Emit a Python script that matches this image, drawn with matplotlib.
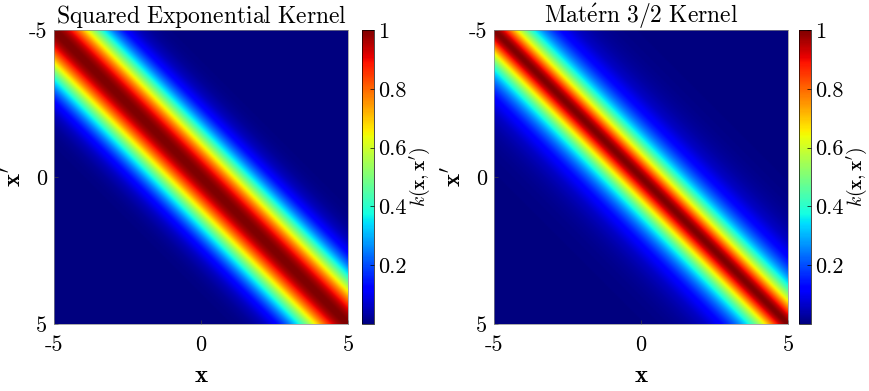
import numpy as np
import matplotlib
matplotlib.use("Agg")
from matplotlib import pyplot as plt

# Parameters
x_min, x_max = -5, 5
n_points = 201
lengthscale_se = 1.2
lengthscale_matern = 1.1
tick_values = [-5, 0, 5]
tick_labels = ["-5", "0", "5"]
cbar_ticks = [0.2, 0.4, 0.6, 0.8, 1]
cbar_labels = ["0.2", "0.4", "0.6", "0.8", "1"]
titles = [r"$\mathrm{Squared\ Exponential\ Kernel}$",
          r"$\mathrm{Mat\acute{e}rn\ 3/2\ Kernel}$"]

plt.rcParams["mathtext.fontset"] = "cm"

# Kernels
def se_kernel(x1, x2, ell):
    d = x1[:, None] - x2[None, :]
    return np.exp(-d**2 / (2 * ell**2))

def matern32_kernel(x1, x2, ell):
    r = np.abs(x1[:, None] - x2[None, :])
    u = np.sqrt(3) * r / ell
    return (1 + u) * np.exp(-u)

xs = np.linspace(x_min, x_max, n_points)
kernels = [se_kernel(xs, xs, lengthscale_se),
           matern32_kernel(xs, xs, lengthscale_matern)]

fig = plt.figure(figsize=(8.69, 3.91), dpi=100)
W, H = 869.0, 391.0
ax_lefts = [54, 494]
cb_lefts = [362, 799]
top, bottom = 30, 324

for i in range(2):
    ax = fig.add_axes([ax_lefts[i] / W, 1 - bottom / H, 294 / W, (bottom - top) / H])
    cax = fig.add_axes([cb_lefts[i] / W, 1 - bottom / H, 12 / W, (bottom - top) / H])
    im = ax.imshow(kernels[i], cmap="jet", extent=[x_min, x_max, x_max, x_min],
                   aspect="auto", vmin=kernels[i].min(), vmax=1, interpolation="bilinear")
    ax.set_xticks(tick_values)
    ax.set_yticks(tick_values)
    ax.set_xticklabels(tick_labels, family="cmr10", fontsize=16)
    ax.set_yticklabels(tick_labels, family="cmr10", fontsize=16)
    ax.tick_params(direction="in", length=3, width=0.5, color="#444444")
    ax.tick_params(axis="x", pad=8)
    ax.tick_params(axis="y", pad=5)
    for s in ax.spines.values():
        s.set_linewidth(0.5)
        s.set_color("#888888")
    ax.set_xlabel(r"$\mathbf{x}$", fontsize=18, labelpad=6)
    ax.set_ylabel(r"$\mathbf{x}'$", fontsize=18, labelpad=2)
    ax.set_title(titles[i], fontsize=17, pad=3)

    cb = fig.colorbar(im, cax=cax)
    cb.set_ticks(cbar_ticks)
    cb.set_ticklabels(cbar_labels)
    for t in cax.get_yticklabels():
        t.set_family("cmr10")
        t.set_fontsize(16)
    cax.tick_params(direction="in", length=3, width=0.5, pad=3)
    cb.outline.set_linewidth(0.5)
    cb.set_label(r"$k(\mathbf{x},\mathbf{x}')$", fontsize=14, labelpad=1)

plt.savefig("out.png", dpi=100)
